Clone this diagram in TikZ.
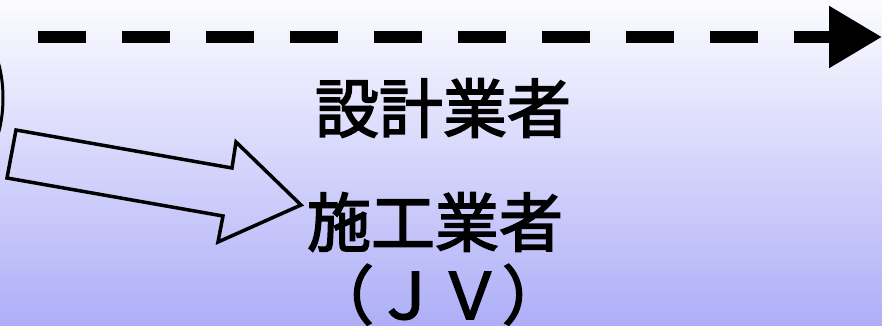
\documentclass[tikz,border=0pt]{standalone}
\usepackage{fontspec}
\newfontfamily\cjk[FakeBold=2.5]{Noto Sans CJK JP}
\usetikzlibrary{arrows.meta}

\definecolor{bgtop}{RGB}{252,252,255}
\definecolor{bgmid}{RGB}{232,232,252}
\definecolor{bgbot}{RGB}{174,174,248}

\tikzset{
    firm/.style = {inner sep=0pt, font=\cjk\fontsize{64}{64}\selectfont},
}

\begin{document}
\begin{tikzpicture}[x = 1pt, y = -1pt]
    \useasboundingbox (0,0) rectangle (882,326);
    \shade[top color=bgtop, middle color=bgmid, bottom color=bgbot] (0,0) rectangle (882,326);

    % dashed flow along the top
    \coordinate (flowstart) at (38,37);
    \coordinate (flowend) at (882,37);
    \draw[line width=12pt, dash pattern=on 48pt off 36pt, -{Triangle[length=53pt,width=59pt]}] (flowstart) -- (flowend);

    % edge of the ellipse on the left
    \draw[line width=3pt] (-27,98) ellipse[x radius=30, y radius=66];

    % hollow arrow
    \draw[line width=3.5pt, line join=miter] (16,130) -- (232,168) -- (236,142) -- (301,205) -- (218,242) -- (223,216) -- (7,178) -- cycle;

    \node[firm] (design) at (443,108) {設計業者};
    \node[firm] (build) at (435,222) {施工業者};
    \node[firm, anchor=north] (jv) at (438,264) {（ＪＶ）};
\end{tikzpicture}
\end{document}
